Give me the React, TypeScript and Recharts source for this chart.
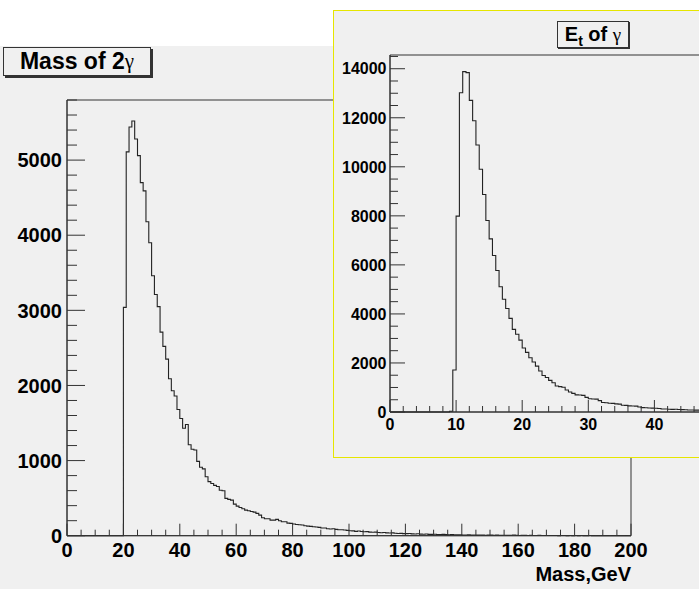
import React from "react";
import { LineChart, Line, XAxis, YAxis, ReferenceArea } from "recharts";

// 2-photon invariant mass, 1 GeV bins from 0 to 200
const MASS_BINS = [
  0, 0, 0, 0, 0, 0, 0, 0, 0, 0,
  0, 0, 0, 0, 0, 0, 0, 0, 0, 0,
  3040, 5110, 5440, 5520, 5280, 5060, 4700, 4590, 4180, 3900,
  3460, 3210, 3050, 2710, 2520, 2350, 2090, 1930, 1860, 1680,
  1560, 1430, 1480, 1210, 1150, 1140, 990, 912, 890, 785,
  720, 695, 670, 655, 605, 598, 497, 483, 474, 420,
  394, 376, 359, 341, 332, 323, 314, 297, 274, 239,
  226, 226, 208, 208, 217, 199, 186, 186, 168, 164,
  155, 150, 146, 142, 133, 128, 124, 120, 115, 111,
  102, 102, 93, 89, 93, 84, 80, 80, 75, 71,
  66, 64, 58, 62, 55, 52, 54, 48, 45, 47,
  42, 40, 43, 37, 35, 38, 32, 30, 31, 28,
  27, 29, 24, 23, 25, 21, 20, 22, 18, 17,
  19, 16, 15, 17, 14, 13, 15, 12, 11, 13,
  10, 9, 11, 8, 10, 7, 9, 8, 6, 8,
  7, 5, 7, 6, 5, 6, 4, 5, 9, 4,
  3, 5, 4, 3, 4, 3, 2, 4, 3, 2,
  3, 2, 3, 2, 1, 2, 3, 1, 2, 1,
  2, 1, 2, 1, 1, 2, 1, 0, 1, 1,
  0, 1, 0, 1, 0, 1, 0, 0, 1, 0,
];
const MASS_BIN_WIDTH = 1;
const MASS_X_LABELS = [0, 20, 40, 60, 80, 100, 120, 140, 160, 180, 200];
const MASS_Y_LABELS = [0, 1000, 2000, 3000, 4000, 5000];
const MASS_Y_MAX = 5800;

// photon transverse energy, 0.5 GeV bins from 0 to 50
const ET_BINS = [
  0, 0, 0, 0, 0, 0, 0, 0, 0, 0,
  0, 0, 0, 0, 0, 0, 0, 0, 30, 1710,
  7990, 13020, 13880, 13840, 12710, 11880, 10890, 9900, 8870, 7810,
  7060, 6380, 5770, 5110, 4600, 4220, 3820, 3370, 3170, 2930,
  2610, 2430, 2210, 2040, 1870, 1670, 1490, 1410, 1290, 1195,
  1060, 1035, 1010, 896, 815, 760, 700, 692, 680, 597,
  540, 530, 525, 462, 385, 375, 355, 350, 330, 320,
  275, 270, 248, 244, 240, 204, 180, 175, 165, 160,
  150, 145, 125, 120, 110, 108, 110, 105, 95, 93,
  82, 80, 78, 75, 70, 66, 60, 62, 55, 52,
];
const ET_BIN_WIDTH = 0.5;
const ET_X_LABELS = [0, 10, 20, 30, 40]; // 50 falls outside the visible canvas
const ET_Y_LABELS = [0, 2000, 4000, 6000, 8000, 10000, 12000, 14000];
const ET_Y_MAX = 14560;

const AXIS = "#333";
const FONT = '"Liberation Sans", Arial, Helvetica, sans-serif';

const toSteps = (bins: number[], w: number) => [
  ...bins.map((v, i) => ({ x: i * w, y: v })),
  { x: bins.length * w, y: bins[bins.length - 1] },
];

const withMinor = (max: number, step: number) => {
  const out: number[] = [];
  for (let v = 0; v <= max + 1e-9; v += step) out.push(Math.round(v * 100) / 100);
  return out;
};

const isIn = (arr: number[], v: number) => arr.some((a) => Math.abs(a - v) < 1e-6);

function xTick(labels: number[], majorStep: number, majorLen: number, minorLen: number, fs: number, dy: number) {
  return (props: any) => {
    const { x, y, payload } = props;
    const major = Math.abs(payload.value / majorStep - Math.round(payload.value / majorStep)) < 1e-6;
    return (
      <g>
        <line x1={x} x2={x} y1={y} y2={y - (major ? majorLen : minorLen)} stroke={AXIS} />
        {isIn(labels, payload.value) && (
          <text x={x} y={y + dy} textAnchor="middle" fontSize={fs} fontWeight="bold" fontFamily={FONT} fill="#000">
            {payload.value}
          </text>
        )}
      </g>
    );
  };
}

function yTick(labels: number[], majorLen: number, minorLen: number, fs: number, gap: number) {
  return (props: any) => {
    const { x, y, payload } = props;
    const major = isIn(labels, payload.value);
    return (
      <g>
        <line x1={x} x2={x + (major ? majorLen : minorLen)} y1={y} y2={y} stroke={AXIS} />
        {major && (
          <text x={x - gap} y={y} dy="0.36em" textAnchor="end" fontSize={fs} fontWeight="bold" fontFamily={FONT} fill="#000">
            {payload.value}
          </text>
        )}
      </g>
    );
  };
}

const massData = toSteps(MASS_BINS, MASS_BIN_WIDTH);
const etData = toSteps(ET_BINS, ET_BIN_WIDTH);

export default function App() {
  return (
    <div style={{ position: "absolute", left: 0, top: 0, width: 699, height: 589, overflow: "hidden", background: "#fff" }}>
      <div style={{ position: "absolute", left: 0, top: 46, width: 699, height: 543, background: "#f0f0f0" }} />

      <div style={{ position: "absolute", left: 0, top: 0 }}>
        <LineChart width={699} height={589} data={massData} margin={{ top: 100, right: 68, bottom: 0, left: 0 }}>
          <XAxis
            type="number"
            dataKey="x"
            domain={[0, 200]}
            ticks={withMinor(200, 5)}
            interval={0}
            height={53.3}
            tickSize={0}
            tickMargin={0}
            tickLine={false}
            axisLine={{ stroke: AXIS }}
            tick={xTick(MASS_X_LABELS, 20, 12, 6, 20, 21)}
          />
          <YAxis
            type="number"
            domain={[0, MASS_Y_MAX]}
            ticks={withMinor(MASS_Y_MAX, 200)}
            interval={0}
            width={67}
            tickSize={0}
            tickMargin={0}
            tickLine={false}
            axisLine={{ stroke: AXIS }}
            tick={yTick(MASS_Y_LABELS, 18, 10, 20, 5)}
          />
          <ReferenceArea x1={0} x2={200} y1={0} y2={MASS_Y_MAX} fill="none" stroke={AXIS} ifOverflow="visible" />
          <Line type="stepAfter" dataKey="y" stroke="#222" strokeWidth={1.1} dot={false} isAnimationActive={false} />
        </LineChart>
      </div>

      <div
        style={{
          position: "absolute", left: 3, top: 47, width: 148, height: 29, boxSizing: "border-box",
          border: "1px solid #333", boxShadow: "2px 2px 0 #333", background: "#f0f0f0",
          display: "flex", alignItems: "center", justifyContent: "center",
          fontFamily: FONT, fontWeight: "bold", fontSize: 23, color: "#000",
        }}
      >
        Mass of 2<span style={{ fontFamily: '"Liberation Serif", serif', fontWeight: "normal", fontSize: 21 }}>γ</span>
      </div>

      <div style={{ position: "absolute", right: 68, top: 564, fontFamily: FONT, fontWeight: "bold", fontSize: 20, lineHeight: "20px", color: "#000" }}>
        Mass,GeV
      </div>

      <div
        style={{
          position: "absolute", left: 333, top: 10, width: 420, height: 448, boxSizing: "border-box",
          border: "1px solid #e6e600", background: "#f0f0f0",
        }}
      >
        <LineChart width={418} height={446} data={etData} margin={{ top: 44, right: 31.5, bottom: 0, left: 0 }}>
          <XAxis
            type="number"
            dataKey="x"
            domain={[0, 50]}
            ticks={withMinor(50, 2)}
            interval={0}
            height={45}
            tickSize={0}
            tickMargin={0}
            tickLine={false}
            axisLine={{ stroke: AXIS }}
            tick={xTick(ET_X_LABELS, 10, 12, 6, 16, 18)}
          />
          <YAxis
            type="number"
            domain={[0, ET_Y_MAX]}
            ticks={withMinor(14500, 500)}
            interval={0}
            width={56}
            tickSize={0}
            tickMargin={0}
            tickLine={false}
            axisLine={{ stroke: AXIS }}
            tick={yTick(ET_Y_LABELS, 15, 8, 16, 3.5)}
          />
          <ReferenceArea x1={0} x2={50} y1={0} y2={ET_Y_MAX} fill="none" stroke={AXIS} ifOverflow="visible" />
          <Line type="stepAfter" dataKey="y" stroke="#222" strokeWidth={1.1} dot={false} isAnimationActive={false} />
        </LineChart>
        <div
          style={{
            position: "absolute", left: 223, top: 10, width: 72, height: 27, boxSizing: "border-box",
            border: "1px solid #333", boxShadow: "1px 1px 0 #333", background: "#f0f0f0",
            display: "flex", alignItems: "center", justifyContent: "center",
            fontFamily: FONT, fontWeight: "bold", fontSize: 20, color: "#000", whiteSpace: "nowrap",
          }}
        >
          E<span style={{ fontSize: 14, position: "relative", top: 6 }}>t</span>&nbsp;of&nbsp;
          <span style={{ fontFamily: '"Liberation Serif", serif', fontWeight: "normal", fontSize: 19 }}>γ</span>
        </div>
      </div>
    </div>
  );
}
